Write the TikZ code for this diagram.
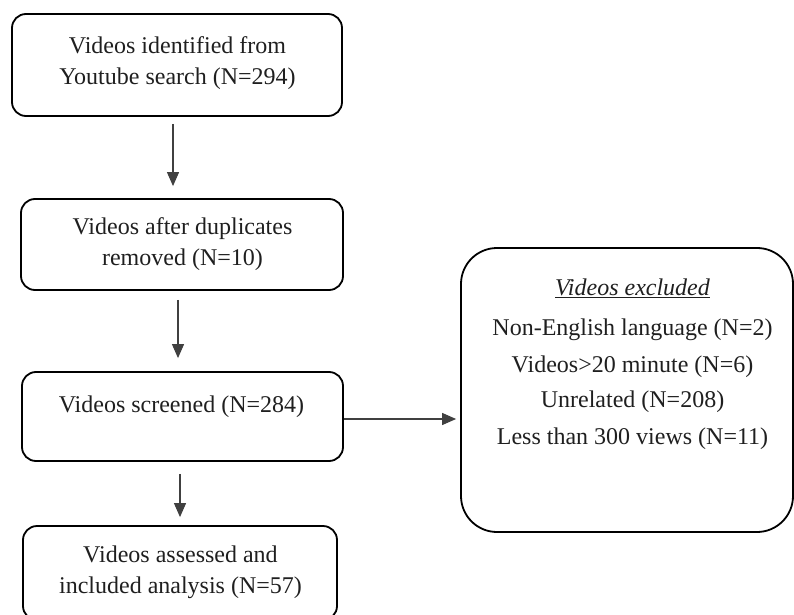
\documentclass[tikz,border=0pt]{standalone}
\usepackage{fontspec}
\setmainfont{Liberation Serif}
\usetikzlibrary{arrows.meta}
\begin{document}
\begin{tikzpicture}[x=1pt,y=1pt,
  box/.style={draw=black,line width=1.8pt,rounded corners=14pt,inner sep=0pt},
  bigbox/.style={draw=black,line width=1.8pt,rounded corners=36pt,inner sep=0pt},
  txt/.style={text=black!88,align=center,inner sep=0pt,font=\fontsize{24}{31}\selectfont},
  arr/.style={draw=black!75,line width=1.1pt,-{Triangle[length=14pt,width=12pt]}}]
\useasboundingbox (0,0) rectangle (794,614);
\node[box,minimum width=330pt,minimum height=102pt] (b1) at (177,549) {};
\node[box,minimum width=322pt,minimum height=91pt] (b2) at (182,369.5) {};
\node[box,minimum width=321pt,minimum height=89pt] (b3) at (182.5,197.5) {};
\node[box,minimum width=314pt,minimum height=94pt] (b4) at (180,41) {};
\node[bigbox,minimum width=332pt,minimum height=284pt] (ex) at (627,224) {};
\node[txt] (t1) at (177.5,551) {Videos identified from\\Youtube search (N=294)};
\node[txt] (t2) at (182.5,370) {Videos after duplicates\\removed (N=10)};
\node[txt] (t3) at (181.5,207.5) {Videos screened (N=284)};
\node[txt] (t4) at (180.5,41.5) {Videos assessed and\\included analysis (N=57)};
\node[txt] (e0) at (632.5,326) {\underline{\textit{Videos excluded}}};
\node[txt] (e1) at (632.5,284) {Non-English language (N=2)};
\node[txt] (e2) at (632.5,247.5) {Videos>20 minute (N=6)};
\node[txt] (e3) at (632.5,212) {Unrelated (N=208)};
\node[txt] (e4) at (632.5,175) {Less than 300 views (N=11)};
\coordinate (s4) at ([yshift=-2.5pt]b3.east);
\coordinate (e4end) at ([xshift=-4pt]ex.west |- s4);
\draw[arr] ([xshift=-4pt,yshift=-7pt]b1.south) -- ([xshift=-9pt,yshift=12pt]b2.north);
\draw[arr] ([xshift=-4pt,yshift=-9pt]b2.south) -- ([xshift=-4.5pt,yshift=13pt]b3.north);
\draw[arr] ([xshift=-2.5pt,yshift=-12pt]b3.south) -- ([yshift=8pt]b4.north);
\draw[arr] (s4) -- (e4end);
\end{tikzpicture}
\end{document}
